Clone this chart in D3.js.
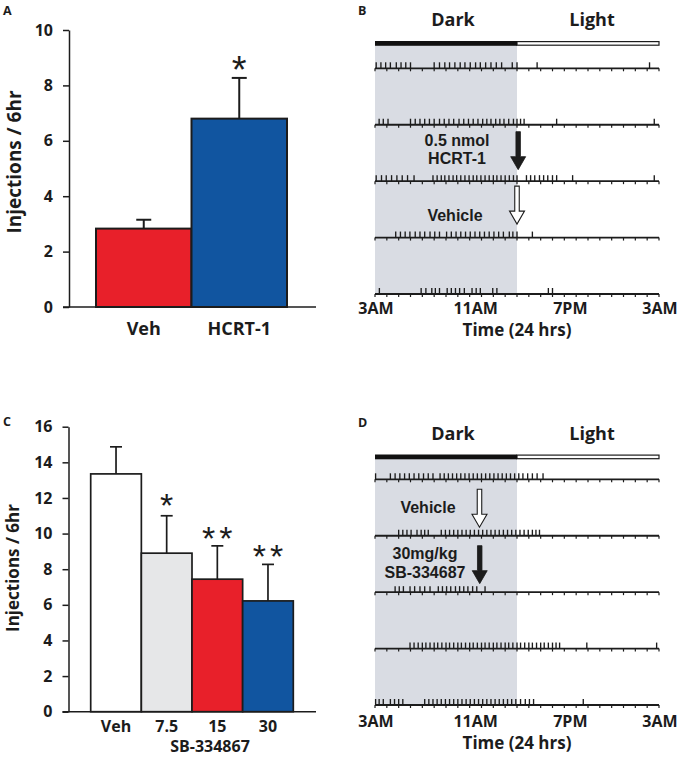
<!DOCTYPE html>
<html><head><meta charset="utf-8">
<script src="https://cdn.jsdelivr.net/npm/d3@7"></script>
<style>
html,body{margin:0;padding:0;background:#fff;}
svg{display:block;font-family:'Open Sans',sans-serif;}
</style></head>
<body>
<svg id="chart" width="679" height="758"></svg>
<script>
// ---------------- DATA ----------------
// Panel A
const catsA = ["Veh", "HCRT-1"];
const meansA = [2.83, 6.8];
const errA = [0.32, 1.47];
const sigA = ["", "*"];
const ticksA = [0, 2, 4, 6, 8, 10];
// Panel C
const catsC = ["Veh", "7.5", "15", "30"];
const meansC = [13.35, 8.9, 7.44, 6.22];
const errC = [1.52, 2.1, 1.87, 2.05];
const sigC = ["", "*", "**", "**"];
const ticksC = [0, 2, 4, 6, 8, 10, 12, 14, 16];
const colorsA = ["#e8202a", "#1155a0"];
const colorsC = ["#ffffff", "#e6e7e8", "#e8202a", "#1155a0"];
// Raster time axis (hours from 3AM)
const timeTicks = [0, 8, 16, 24];
const timeLabels = ["3AM", "11AM", "7PM", "3AM"];
// Panel B events (hours after 3AM), one array per day
const eventsB = [
  [0.1,0.5,0.9,1.3,1.8,2.2,2.6,3.0, 5.0,5.45,5.9,6.3,6.75,7.2,7.6,8.05,8.5,8.9,9.35,9.8,10.25,10.7, 11.6,12.0, 13.7, 23.2],
  [0.35,0.7,1.1, 3.0,3.4,3.8,4.2,4.6,5.0,5.45,5.85,6.25,6.65,7.1,7.5,7.9,8.3,8.7, 9.1,9.45,9.8,10.2,10.55,10.9,11.3,11.7,12.0,12.3,12.6, 15.35, 23.6],
  [0.1,0.55,0.95,1.4,1.85,2.3,2.75,3.3, 4.9,5.25,5.6,5.9,6.25,6.6,6.9,7.25,7.6,7.95,8.3,8.6,8.95,9.3,9.65,10.0,10.3,10.65,11.0,11.35,11.7,12.0, 12.8,13.15,13.5,13.9,14.25,14.6,15.0,15.35, 16.7, 23.6],
  [1.75,2.15,2.55,2.95,3.4,3.8,4.2,4.65,5.05,5.45, 6.05,6.45,6.85,7.25,7.65,8.05,8.45,8.85,9.25,9.65,10.05,10.45,10.85, 11.35,11.65,12.0, 13.3],
  [0.37, 3.9,4.3, 4.8,5.1,5.45, 6.1,6.45,6.8,7.15,7.55, 8.2,8.55,8.9, 9.95,10.3, 14.65,15.0]
];
// Panel D events
const eventsD = [
  [0.05, 1.3,1.7,2.1,2.5,2.9,3.3,3.7,4.1,4.5,4.9, 5.5,5.85,6.2,6.55,6.9,7.25,7.6,7.95,8.3,8.65,9.0,9.35,9.7,10.05,10.4,10.75,11.1,11.45,11.8,12.15,12.5,12.9,13.3,13.7,14.2],
  [2.0,2.35,2.7,3.05, 3.55,3.9,4.2,4.5, 5.6,5.95,6.3,6.65,7.0,7.35,7.7,8.05,8.4,8.75,9.1,9.45,9.8,10.15,10.5,10.85,11.2,11.55,11.9,12.25,12.6,12.95,13.3,13.6,13.9],
  [1.7,2.05,2.4, 2.96,3.35,3.8,4.2,4.65, 5.35,5.7,6.05,6.4,6.8,7.15,7.5,7.85,8.25,8.6, 9.3],
  [2.96,3.3,3.65,4.0,4.3,4.65,5.0,5.3,5.65,6.0,6.3,6.65,7.0,7.3,7.65,8.0,8.3,8.65,9.0,9.3,9.65,10.0,10.3,10.65,11.0,11.3,11.65,12.0,12.3,12.65,13.0,13.3,13.65,14.0,14.3,14.65,15.0,15.3,15.6, 17.9, 23.8],
  [0.05,0.35,0.7, 1.3,1.65,2.0,2.35, 4.2,4.55,4.9,5.25,5.6,5.95,6.3,6.65,7.0,7.35,7.7,8.05,8.4,8.75,9.1,9.45,9.8,10.15,10.5,10.85,11.2,11.55,11.9,12.3,12.7,13.05,13.4, 17.6]
];
const darkEnd = 12; // dark phase: 3AM-3PM
const hours = d3.range(0, 25);
// arrows: hour position, row index (arrow points to that row), filled or hollow
const arrowsB = [{h: 12.1, row: 2, filled: true}, {h: 12.0, row: 3, filled: false}];
const arrowsD = [{h: 8.83, row: 1, filled: false}, {h: 8.85, row: 2, filled: true}];

// ---------------- DRAW ----------------
const svg = d3.select("#chart");
const INK = "#1c1c1c";

function letter(x, y, t) {
  svg.append("text").attr("x", x).attr("y", y).text(t)
    .attr("font-size", 12.5).attr("font-weight", 700).attr("fill", INK);
}
letter(3, 14.5, "A"); letter(358, 14.5, "B"); letter(3, 426, "C"); letter(358, 427, "D");

function barPanel(o) {
  const g = svg.append("g");
  const y = d3.scaleLinear().domain([0, o.ymax]).range([o.y0, o.y1]);
  const x = d3.scaleBand().domain(o.cats).range([o.x0, o.x1]).padding(0);
  g.selectAll("rect.bar").data(o.cats).join("rect")
    .attr("x", d => x(d)).attr("width", x.bandwidth())
    .attr("y", (d, i) => y(o.means[i])).attr("height", (d, i) => y(0) - y(o.means[i]))
    .attr("fill", (d, i) => o.colors[i]).attr("stroke", INK).attr("stroke-width", o.sw);
  o.cats.forEach((c, i) => {
    const cx = x(c) + x.bandwidth() / 2;
    const top = y(o.means[i] + o.errs[i]);
    g.append("line").attr("x1", cx).attr("x2", cx).attr("y1", y(o.means[i])).attr("y2", top)
      .attr("stroke", INK).attr("stroke-width", o.sw);
    g.append("line").attr("x1", cx - o.cap / 2).attr("x2", cx + o.cap / 2).attr("y1", top).attr("y2", top)
      .attr("stroke", INK).attr("stroke-width", o.sw);
    if (o.sig[i]) {
      const multi = o.sig[i].length > 1;
      g.append("text").attr("x", cx).attr("y", top - (multi ? o.sigGap2 : o.sigGap)).attr("text-anchor", "middle")
        .attr("font-family", "'Liberation Sans',sans-serif").attr("font-size", o.sigSize)
        .attr("letter-spacing", multi ? o.sigSpace : 0)
        .attr("dx", multi ? o.sigSpace / 2 : 0)
        .attr("fill", INK).text(o.sig[i]);
    }
  });
  const ax = g.append("g").attr("transform", `translate(${o.axX},0)`)
    .call(d3.axisLeft(y).tickValues(o.ticks).tickSize(6).tickSizeOuter(0).tickPadding(10));
  ax.select(".domain").attr("stroke", INK).attr("stroke-width", 1.5);
  ax.selectAll(".tick line").attr("stroke", INK).attr("stroke-width", 1.5);
  ax.selectAll(".tick text").attr("font-size", o.tickFs).attr("font-weight", 700)
    .attr("font-family", "'Open Sans',sans-serif").attr("fill", INK);
  g.append("line").attr("x1", o.axX - 6).attr("x2", o.baseEnd).attr("y1", y(0)).attr("y2", y(0))
    .attr("stroke", INK).attr("stroke-width", 1.5);
  g.selectAll("text.cat").data(o.cats).join("text").attr("class", "cat")
    .attr("x", d => x(d) + x.bandwidth() / 2).attr("y", o.catY).attr("text-anchor", "middle")
    .attr("font-size", o.catFs).attr("font-weight", 700).attr("fill", INK).text(d => d);
  g.append("text").attr("transform", `translate(${o.ylabX},${o.ylabY}) rotate(-90)`)
    .attr("text-anchor", "middle").attr("font-size", o.ylabFs).attr("font-weight", 700)
    .attr("fill", INK).text("Injections / 6hr");
  return g;
}

barPanel({cats: catsA, means: meansA, errs: errA, sig: sigA, colors: colorsA, ticks: ticksA,
  ymax: 10, y0: 307, y1: 30, x0: 96, x1: 287, axX: 69, baseEnd: 316, sw: 2, cap: 15,
  sigSize: 38, sigGap: -5, sigGap2: -5, sigSpace: 4, tickFs: 16, catFs: 18, catY: 335, ylabX: 21, ylabY: 162, ylabFs: 19});

const gC = barPanel({cats: catsC, means: meansC, errs: errC, sig: sigC, colors: colorsC, ticks: ticksC,
  ymax: 16, y0: 711.7, y1: 426.7, x0: 90.7, x1: 293.3, axX: 68.5, baseEnd: 316, sw: 1.7, cap: 12,
  sigSize: 34, sigGap: -1, sigGap2: -4, sigSpace: 4, tickFs: 16, catFs: 16, catY: 731.5, ylabX: 19, ylabY: 568, ylabFs: 17});
gC.append("text").attr("x", 210).attr("y", 752).attr("text-anchor", "middle")
  .attr("font-size", 16).attr("font-weight", 700).attr("fill", INK).text("SB-334867");

function arrow(g, x, yTop, yTip, filled) {
  const sw = 4.5, hw = 15, hh = 13;
  const p = d3.path();
  p.moveTo(x - sw / 2, yTop); p.lineTo(x + sw / 2, yTop); p.lineTo(x + sw / 2, yTip - hh);
  p.lineTo(x + hw / 2, yTip - hh); p.lineTo(x, yTip); p.lineTo(x - hw / 2, yTip - hh);
  p.lineTo(x - sw / 2, yTip - hh); p.closePath();
  g.append("path").attr("d", p.toString())
    .attr("fill", filled ? INK : "#fff").attr("stroke", INK).attr("stroke-width", filled ? 0.8 : 1.1);
}

function annot(g, s, x, y) {
  g.append("text").attr("x", x).attr("y", y).attr("text-anchor", "middle")
    .attr("font-family", "'Liberation Sans',sans-serif")
    .attr("font-size", 16).attr("font-weight", 700).attr("fill", INK).text(s);
}

function raster(o) {
  const g = svg.append("g");
  const x = d3.scaleLinear().domain([0, 24]).range([375, 659]);
  const r = d3.scaleLinear().domain([0, o.events.length - 1]).range([o.row0, o.rowN]);
  g.append("rect").attr("x", x(0)).attr("width", x(darkEnd) - x(0))
    .attr("y", o.barY + 4.5).attr("height", r(o.events.length - 1) - o.barY - 4.5).attr("fill", "#d9dce3");
  g.append("rect").attr("x", x(darkEnd)).attr("width", x(24) - x(darkEnd)).attr("y", o.barY + 0.6)
    .attr("height", 3.6).attr("fill", "#fff").attr("stroke", INK).attr("stroke-width", 1.2);
  g.append("rect").attr("x", x(0)).attr("width", x(darkEnd) - x(0)).attr("y", o.barY)
    .attr("height", 4.8).attr("fill", "#111");
  g.append("text").attr("x", 453).attr("y", o.barY - 15).attr("text-anchor", "middle")
    .attr("font-size", 18).attr("font-weight", 700).attr("fill", INK).text("Dark");
  g.append("text").attr("x", 592).attr("y", o.barY - 15).attr("text-anchor", "middle")
    .attr("font-size", 18).attr("font-weight", 700).attr("fill", INK).text("Light");
  o.events.forEach((ev, i) => {
    const yb = r(i);
    const rg = g.append("g");
    rg.append("line").attr("x1", x(0)).attr("x2", x(24)).attr("y1", yb).attr("y2", yb)
      .attr("stroke", INK).attr("stroke-width", 1.8);
    rg.selectAll("line.h").data(hours).join("line").attr("class", "h")
      .attr("x1", d => x(d)).attr("x2", d => x(d)).attr("y1", yb).attr("y2", yb + 3)
      .attr("stroke", INK).attr("stroke-width", 1.2);
    rg.selectAll("line.e").data(ev).join("line").attr("class", "e")
      .attr("x1", d => x(d)).attr("x2", d => x(d)).attr("y1", yb).attr("y2", yb - 6)
      .attr("stroke", INK).attr("stroke-width", 1.35);
  });
  o.arrows.forEach(a => {
    const tip = r(a.row) - a.gap;
    arrow(g, x(a.h), tip - 38, tip, a.filled);
  });
  g.selectAll("text.t").data(timeTicks).join("text").attr("class", "t")
    .attr("x", (d, i) => x(d) + (i === 1 || i === 2 ? 6 : 1)).attr("y", o.tY).attr("text-anchor", "middle")
    .attr("font-size", 16).attr("font-weight", 700).attr("fill", INK).text((d, i) => timeLabels[i]);
  g.append("text").attr("x", x(12)).attr("y", o.tY + 22).attr("text-anchor", "middle")
    .attr("font-size", 17).attr("font-weight", 700).attr("fill", INK).text("Time (24 hrs)");
  return g;
}

const gB = raster({events: eventsB, row0: 68.3, rowN: 294, barY: 41,
  arrows: arrowsB.map((a, i) => ({...a, gap: i === 0 ? 11.5 : 13.5})), tY: 313.5});
annot(gB, "0.5 nmol", 457, 145.5);
annot(gB, "HCRT-1", 457, 164);
annot(gB, "Vehicle", 455, 220.5);

const gD = raster({events: eventsD, row0: 479.3, rowN: 705, barY: 454.5,
  arrows: arrowsD.map(a => ({...a, gap: 8.5})), tY: 726.7});
annot(gD, "Vehicle", 428, 513);
annot(gD, "30mg/kg", 425, 558.5);
annot(gD, "SB-334687", 425, 577.5);
</script>
</body></html>
